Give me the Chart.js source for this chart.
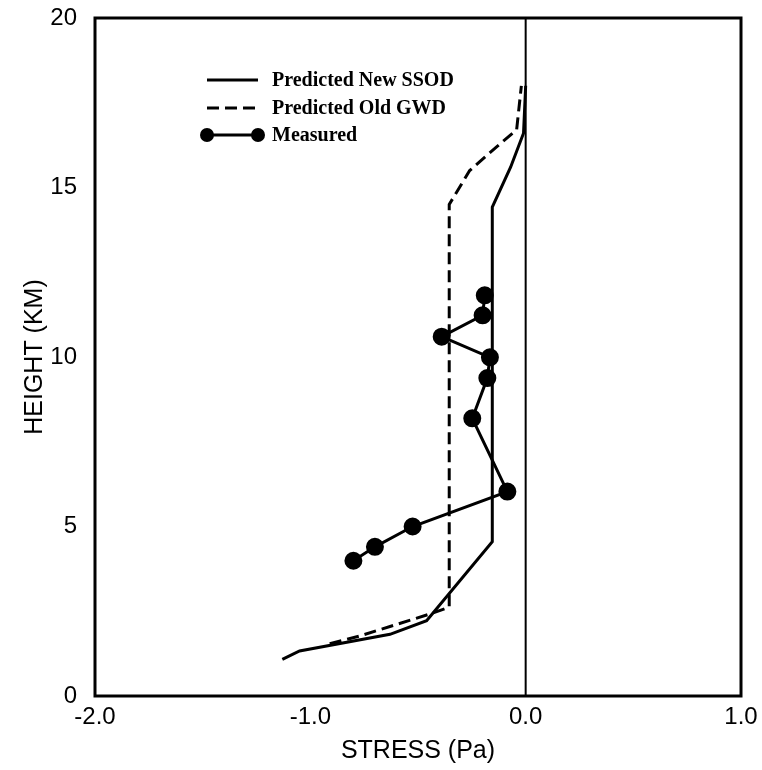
<!DOCTYPE html>
<html>
<head>
<meta charset="utf-8">
<script src="https://cdn.jsdelivr.net/npm/chart.js@4/dist/chart.umd.min.js"></script>
<style>
  html, body { margin: 0; padding: 0; background: #fff; }
  #wrap { width: 762px; height: 770px; }
</style>
</head>
<body>
<div id="wrap"><canvas id="stressChart"></canvas></div>
<script>
// Values: stress (Pa) against height (km)
const ssodStress = [-1.13, -1.05, -0.63, -0.46, -0.155, -0.155, -0.07, -0.01, 0.0];
const ssodHeight = [1.08, 1.33, 1.82, 2.22, 4.55, 14.42, 15.6, 16.6, 18.0];

const gwdStress = [-0.91, -0.77, -0.445, -0.355, -0.355, -0.26, -0.135, -0.042, -0.02];
const gwdHeight = [1.54, 1.77, 2.42, 2.62, 14.5, 15.5, 16.2, 16.7, 18.0];

const measuredStress = [-0.19, -0.20, -0.39, -0.166, -0.178, -0.248, -0.085, -0.525, -0.70, -0.80];
const measuredHeight = [11.82, 11.23, 10.6, 9.99, 9.38, 8.19, 6.03, 5.0, 4.40, 3.99];

// vertical reference line at zero stress
const zeroStress = [0, 0];
const zeroHeight = [0, 20];

const xTicks = [-2, -1, 0, 1];
const yTicks = [0, 5, 10, 15, 20];

const seriesLabels = ['Predicted New SSOD', 'Predicted Old GWD', 'Measured'];

function toPoints(xs, ys) {
  return xs.map((x, i) => ({ x: x, y: ys[i] }));
}

// Legend drawn inside the plot area, top left
const insideLegend = {
  id: 'insideLegend',
  afterDatasetsDraw(chart) {
    const ctx = chart.ctx;
    const x0 = 207, x1 = 258, textX = 272;
    const rows = [80, 108, 135];
    ctx.save();
    ctx.font = 'bold 20px "Liberation Serif", "DejaVu Serif", serif';
    ctx.fillStyle = '#000';
    ctx.textBaseline = 'middle';
    seriesLabels.forEach((label, i) => {
      const ds = chart.data.datasets.find(d => d.label === label);
      const y = rows[i];
      ctx.strokeStyle = '#000';
      ctx.lineWidth = 3;
      ctx.setLineDash(ds.borderDash || []);
      ctx.beginPath();
      ctx.moveTo(x0, y);
      ctx.lineTo(x1, y);
      ctx.stroke();
      ctx.setLineDash([]);
      if (ds.pointRadius > 0) {
        [x0, x1].forEach(px => {
          ctx.beginPath();
          ctx.arc(px, y, 7, 0, Math.PI * 2);
          ctx.fill();
        });
      }
      ctx.fillText(label, textX, y + 1);
    });
    ctx.restore();
  }
};

// Box around the plot area
const frame = {
  id: 'frame',
  afterDraw(chart) {
    const { left, top, right, bottom } = chart.chartArea;
    const ctx = chart.ctx;
    ctx.save();
    ctx.strokeStyle = '#000';
    ctx.lineWidth = 3;
    ctx.strokeRect(left, top, right - left, bottom - top);
    ctx.restore();
  }
};

const ctx = document.getElementById('stressChart').getContext('2d');
new Chart(ctx, {
  type: 'scatter',
  data: {
    datasets: [
      {
        label: 'Predicted New SSOD',
        data: toPoints(ssodStress, ssodHeight),
        showLine: true,
        borderColor: '#000',
        borderWidth: 3,
        pointRadius: 0,
        tension: 0
      },
      {
        label: 'Predicted Old GWD',
        data: toPoints(gwdStress, gwdHeight),
        showLine: true,
        borderColor: '#000',
        borderWidth: 3,
        borderDash: [12, 6],
        pointRadius: 0,
        tension: 0
      },
      {
        label: 'Measured',
        data: toPoints(measuredStress, measuredHeight),
        showLine: true,
        borderColor: '#000',
        borderWidth: 3,
        backgroundColor: '#000',
        pointBackgroundColor: '#000',
        pointRadius: 7.5,
        tension: 0
      },
      {
        label: 'zero',
        data: toPoints(zeroStress, zeroHeight),
        showLine: true,
        borderColor: '#000',
        borderWidth: 2,
        pointRadius: 0
      }
    ]
  },
  options: {
    responsive: true,
    maintainAspectRatio: false,
    animation: false,
    layout: { padding: { top: 18, right: 21, left: 0, bottom: 0 } },
    plugins: {
      legend: { display: false },
      tooltip: { enabled: false }
    },
    scales: {
      x: {
        type: 'linear',
        min: -2,
        max: 1,
        afterBuildTicks: scale => { scale.ticks = xTicks.map(v => ({ value: v })); },
        afterFit: scale => {
          scale.height = 74;
          scale.paddingLeft = 0;
          scale.paddingRight = 0;
        },
        grid: { display: false, drawTicks: false },
        border: { display: false },
        ticks: {
          padding: 7,
          color: '#000',
          font: { family: '"Liberation Sans", Arial, sans-serif', size: 24 },
          callback: v => Number(v).toFixed(1)
        },
        title: {
          display: true,
          text: 'STRESS (Pa)',
          color: '#000',
          padding: { top: 0, bottom: 4 },
          font: { family: '"Liberation Sans", Arial, sans-serif', size: 25 }
        }
      },
      y: {
        type: 'linear',
        min: 0,
        max: 20,
        afterBuildTicks: scale => { scale.ticks = yTicks.map(v => ({ value: v })); },
        afterFit: scale => {
          scale.width = 95;
          scale.paddingTop = 0;
          scale.paddingBottom = 0;
        },
        grid: { display: false, drawTicks: false },
        border: { display: false },
        ticks: {
          padding: 18,
          color: '#000',
          font: { family: '"Liberation Sans", Arial, sans-serif', size: 24 }
        },
        title: {
          display: true,
          text: 'HEIGHT (KM)',
          color: '#000',
          padding: { top: 20, bottom: 0 },
          font: { family: '"Liberation Sans", Arial, sans-serif', size: 25 }
        }
      }
    }
  },
  plugins: [insideLegend, frame]
});
</script>
</body>
</html>
